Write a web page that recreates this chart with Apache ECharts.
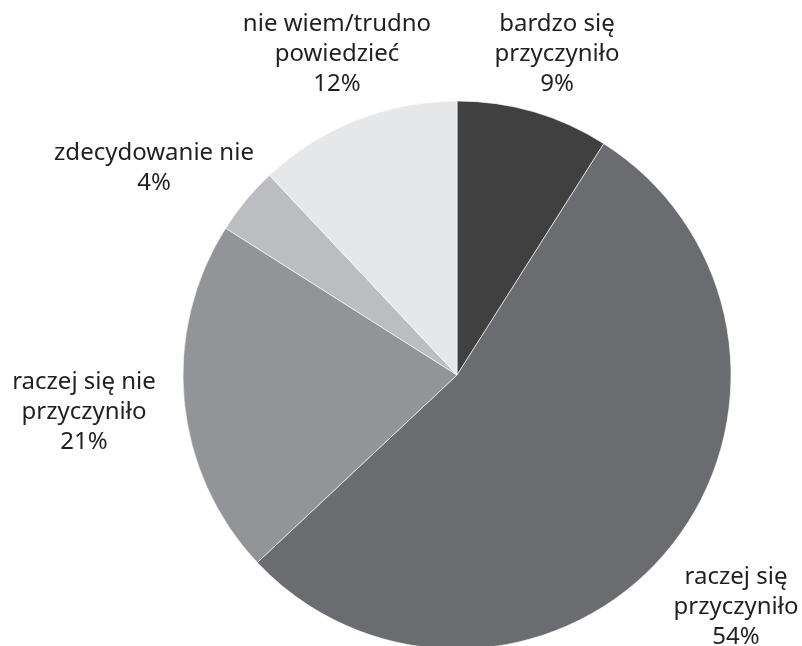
<!DOCTYPE html>
<html lang="pl">
<head>
    <meta charset="utf-8">
    <title>Pie</title>
    <script src="https://cdn.jsdelivr.net/npm/echarts@6/dist/echarts.min.js"></script>
    <style>
        html, body { margin: 0; padding: 0; background: #fff; }
        #main { width: 802px; height: 646px; }
    </style>
</head>
<body>
<div id="main"></div>
<script type="text/javascript">
    // dane
    var categories = ['bardzo się\nprzyczyniło', 'raczej się\nprzyczyniło', 'raczej się nie\nprzyczyniło', 'zdecydowanie nie', 'nie wiem/trudno\npowiedzieć'];
    var values = [9, 54, 21, 4, 12];
    var colors = ['#404041', '#6b6c70', '#939497', '#bcbdc0', '#e6e7e8'];
    // label centres (x, y)
    var labelPos = [[557, 54], [736, 607], [84, 412], [154, 168], [337, 54]];

    var chart = echarts.init(document.getElementById('main'));
    var seriesData = categories.map(function (name, i) {
        return { name: name, value: values[i], itemStyle: { color: colors[i] } };
    });

    chart.setOption({
        animation: false,
        series: [{
            type: 'pie',
            center: [457, 375],
            radius: 274,
            startAngle: 90,
            clockwise: true,
            data: seriesData,
            itemStyle: { borderColor: '#ffffff', borderWidth: 0.6 },
            label: {
                show: true,
                position: 'outside',
                formatter: '{b}\n{c}%',
                color: '#231f20',
                fontFamily: 'Noto Sans',
                fontSize: 24,
                lineHeight: 30,
                align: 'center',
                overflow: 'none'
            },
            labelLine: { show: false },
            labelLayout: function (params) {
                var p = labelPos[params.dataIndex];
                return { x: p[0], y: p[1], align: 'center', verticalAlign: 'middle', hideOverlap: false };
            },
            emphasis: { disabled: true }
        }]
    });
</script>
</body>
</html>
